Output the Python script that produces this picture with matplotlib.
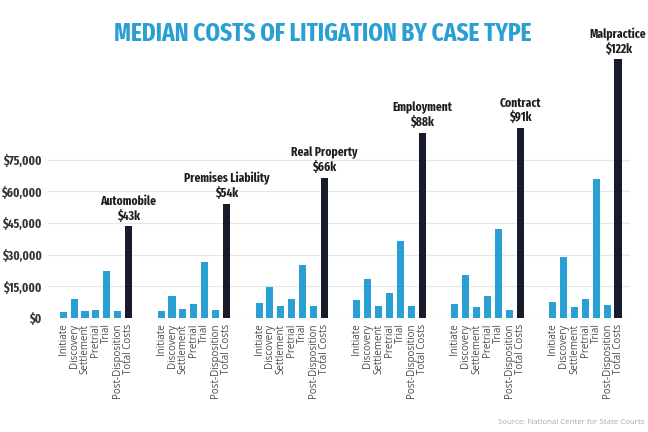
#!/usr/bin/env python3

import matplotlib
matplotlib.use("Agg")
import matplotlib.pyplot as plt
from matplotlib.ticker import FuncFormatter

CYAN = "#2a9fd3"
NAVY = "#171b2c"
TITLE_FONT = ["Fira Sans Extra Condensed", "DejaVu Sans"]
LABEL_FONT = ["Fira Sans Extra Condensed", "DejaVu Sans"]
SMALL_FONT = ["Open Sans", "DejaVu Sans"]

STAGES = ["Initiate", "Discovery", "Settlement", "Pretrial", "Trial",
          "Post-Disposition", "Total Costs"]
CASE_TYPES = ["Automobile", "Premises Liability", "Real Property",
              "Employment", "Contract", "Malpractice"]
TOTAL_LABELS = ["$43k", "$54k", "$66k", "$88k", "$91k", "$122k"]

# Median cost per stage, in dollars.
automobile = [2700, 8800, 3300, 3800, 22300, 3300, 43400]
premises_liability = [3300, 10300, 4400, 6500, 26700, 3800, 54200]
real_property = [7100, 14500, 5700, 8800, 25300, 5700, 66400]
employment = [8500, 18500, 5900, 11900, 36700, 5900, 87700]
contract = [6500, 20400, 5200, 10400, 42200, 3600, 90000]
malpractice = [7400, 29000, 5200, 9200, 66000, 6300, 122500]

YTICKS = [0, 15000, 30000, 45000, 60000, 75000]

groups = [automobile, premises_liability, real_property,
          employment, contract, malpractice]

fig = plt.figure(figsize=(6.48, 4.32), dpi=100)
ax = fig.add_axes([48 / 648, (432 - 318) / 432, 582 / 648, 295.5 / 432])

xpos, xlabels = [], []
for g, values in enumerate(groups):
    xs = [g * 9 + i for i in range(len(STAGES))]
    colors = [CYAN] * 6 + [NAVY]
    ax.bar(xs, values, 0.65, color=colors, zorder=2)
    xpos += xs
    xlabels += STAGES
    # Case type and total above the total-cost bar.
    ax.annotate(f"{CASE_TYPES[g]}\n{TOTAL_LABELS[g]}", (xs[-1], values[-1]),
                xytext=(0, 3), textcoords="offset points",
                ha="center", va="bottom", fontsize=9, fontweight="bold",
                family=LABEL_FONT, color="#1e1e1e", linespacing=1.15)

ax.set_xlim(-1.4, 52.1)
ax.set_ylim(0, 140000)
ax.set_xticks(xpos)
ax.set_xticklabels(xlabels, rotation=90, fontsize=7, color="#4a4a4a",
                   family=SMALL_FONT)
ax.set_yticks(YTICKS)
ax.yaxis.set_major_formatter(FuncFormatter(lambda v, _: f"${v:,.0f}"))
for lbl in ax.get_yticklabels():
    lbl.set_family(LABEL_FONT)
    lbl.set_fontweight("bold")
    lbl.set_fontsize(9)
    lbl.set_color("#333333")
ax.tick_params(length=0, pad=4)
ax.tick_params(axis="y", pad=4.5)

for y in YTICKS:
    ax.axhline(y, color="#e6e6e6", linewidth=0.8, zorder=1)
for side in ax.spines.values():
    side.set_visible(False)

fig.text(323 / 648, 1 - 34 / 432, "MEDIAN COSTS OF LITIGATION BY CASE TYPE",
         ha="center", va="center", fontsize=18.2, fontweight="bold",
         family=TITLE_FONT, color=CYAN)
fig.text(645 / 648, 1 - 423 / 432, "Source: National Center for State Courts",
         ha="right", va="center", fontsize=5.7, color="#aaaaaa",
         family=SMALL_FONT)

plt.savefig("out.png", dpi=100)
